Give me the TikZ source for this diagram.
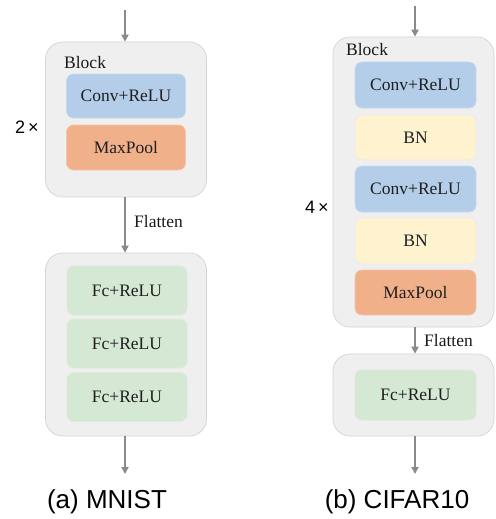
\documentclass[tikz,border=0pt]{standalone}
\usepackage{fontspec}
\setmainfont{Liberation Serif}
\newfontfamily\capfont{Liberation Sans}
\usetikzlibrary{arrows.meta}
\definecolor{outerfill}{HTML}{EFEFEF}
\definecolor{outerline}{HTML}{D4D4D4}
\definecolor{convfill}{HTML}{B4CDE8}
\definecolor{convline}{HTML}{C8DAEE}
\definecolor{poolfill}{HTML}{F0B08A}
\definecolor{poolline}{HTML}{F3C6AA}
\definecolor{bnfill}{HTML}{FFF2CF}
\definecolor{bnline}{HTML}{E9EBEF}
\definecolor{fcfill}{HTML}{D5E8D4}
\definecolor{fcline}{HTML}{DCEBDB}
\definecolor{arrowgray}{HTML}{8A8A8A}
\tikzset{
  outerbox/.style={draw=outerline, line width=0.7pt, fill=outerfill, rounded corners=17pt, minimum width=161pt, inner sep=0pt},
  layerbox/.style={rounded corners=7pt, minimum width=119pt, inner sep=0pt, font=\fontsize{17.5}{20}\selectfont, text=black!88, line width=0.8pt},
  convbox/.style={layerbox, draw=convline, fill=convfill},
  poolbox/.style={layerbox, draw=poolline, fill=poolfill},
  bnbox/.style={layerbox, draw=bnline, fill=bnfill},
  fcbox/.style={layerbox, draw=fcline, fill=fcfill},
  lbl/.style={font=\fontsize{17.5}{20}\selectfont, text=black!90, inner sep=0pt},
  rep/.style={font=\capfont\fontsize{18}{20}\selectfont, inner sep=0pt},
  captext/.style={font=\capfont\fontsize{26}{30}\selectfont, inner sep=0pt},
  flow/.style={draw=arrowgray, line width=1.8pt, -{Triangle[width=7pt,length=7pt]}}
}
\begin{document}
\begin{tikzpicture}[x=1pt,y=-1pt]
\useasboundingbox (0,0) rectangle (495,519);
% ---------- (a) MNIST ----------
\node[outerbox, minimum height=155pt] (aout1) at (126,119.5) {};
\node[lbl, anchor=west] (ablock) at (64,63) {Block};
\node[convbox, minimum height=44pt] (aconv) at (126,96) {Conv+ReLU};
\node[poolbox, minimum height=45pt] (apool) at (126,147.5) {MaxPool};
\node[rep] (arep) at (27,127) {2\,×};
\node[outerbox, minimum height=183pt] (aout2) at (126,344.5) {};
\node[fcbox, minimum height=49pt, minimum width=120pt] (afc1) at (127,290.5) {Fc+ReLU};
\node[fcbox, minimum height=49pt, minimum width=120pt] (afc2) at (127,343.5) {Fc+ReLU};
\node[fcbox, minimum height=49pt, minimum width=120pt] (afc3) at (127,397) {Fc+ReLU};
\coordinate (atop) at (125,10);
\coordinate (abot) at (125,474);
\draw[flow] (atop) -- (atop |- aout1.north);
\draw[flow] (aout1.south -| atop) -- (aout2.north -| atop);
\draw[flow] (aout2.south -| atop) -- (abot);
\node[lbl, anchor=west] (aflat) at (134,222) {Flatten};
\node[captext] (acap) at (107,502) {(a) MNIST};
% ---------- (b) CIFAR10 ----------
\node[outerbox, minimum height=290pt] (bout1) at (413.5,182) {};
\node[lbl, anchor=west] (bblock) at (346,50) {Block};
\node[convbox, minimum height=46pt, minimum width=121pt] (bconv1) at (415.5,85) {Conv+ReLU};
\node[bnbox, minimum height=45pt, minimum width=121pt] (bbn1) at (415.5,137.5) {BN};
\node[convbox, minimum height=46pt, minimum width=121pt] (bconv2) at (415.5,189) {Conv+ReLU};
\node[bnbox, minimum height=46pt, minimum width=121pt] (bbn2) at (415.5,241) {BN};
\node[poolbox, minimum height=45pt, minimum width=121pt] (bpool) at (415.5,292.5) {MaxPool};
\node[rep] (brep) at (317,207) {4\,×};
\node[outerbox, minimum height=82pt] (bout2) at (413.5,395) {};
\node[fcbox, minimum height=50pt, minimum width=121pt] (bfc) at (415.5,395) {Fc+ReLU};
\coordinate (btop) at (415,6);
\coordinate (bbot) at (415,474);
\draw[flow] (btop) -- (btop |- bout1.north);
\draw[flow] (bout1.south -| btop) -- (bout2.north -| btop);
\draw[flow] (bout2.south -| btop) -- (bbot);
\node[lbl, anchor=west] (bflat) at (424,341) {Flatten};
\node[captext] (bcap) at (397,502) {(b) CIFAR10};
\end{tikzpicture}
\end{document}
